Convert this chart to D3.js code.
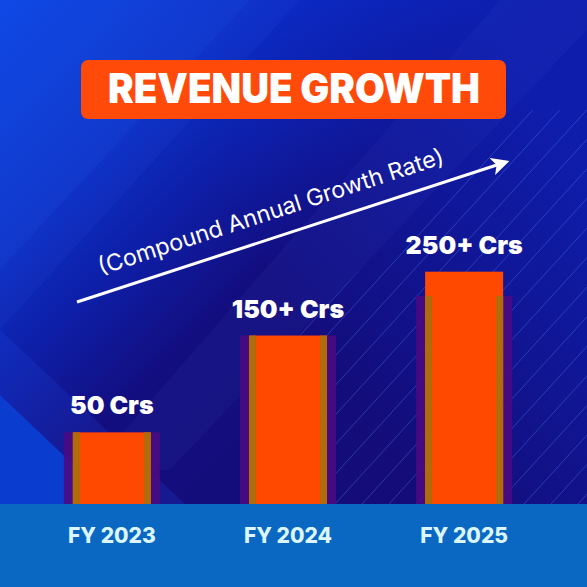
<!DOCTYPE html>
<html>
<head>
<meta charset="utf-8">
<script src="https://cdn.jsdelivr.net/npm/d3@7"></script>
<style>
  html, body { margin: 0; padding: 0; background: #120c74; }
  svg { display: block; }
</style>
</head>
<body>
<div id="chart"></div>
<script>
// chart data
var years = ["FY 2023", "FY 2024", "FY 2025"];
var valueLabels = ["50 Crs", "150+ Crs", "250+ Crs"];
// bar heights as drawn in the picture (not to scale with the labels)
var barLevels = [74, 174, 240];
var shadowLevels = [74, 174, 215];
var titleText = "REVENUE GROWTH";
var arrowText = "(Compound Annual Growth Rate)";

var svgWidth = 587;
var svgHeight = 587;
var baseY = 504;

var svg = d3.select("#chart")
  .append("svg")
  .attr("width", svgWidth)
  .attr("height", svgHeight);

var defs = svg.append("defs");

// background: navy base with a bright blue corner at the top left
var bg = defs.append("linearGradient")
  .attr("id", "bg")
  .attr("gradientUnits", "userSpaceOnUse")
  .attr("x1", 0).attr("y1", 0)
  .attr("x2", 587).attr("y2", 587);
bg.append("stop").attr("offset", "0").attr("stop-color", "#0742e2");
bg.append("stop").attr("offset", "0.2").attr("stop-color", "#0a32ca");
bg.append("stop").attr("offset", "0.33").attr("stop-color", "#0e1ea6");
bg.append("stop").attr("offset", "0.45").attr("stop-color", "#130e80");
bg.append("stop").attr("offset", "1").attr("stop-color", "#140b72");

svg.append("rect")
  .attr("width", svgWidth)
  .attr("height", svgHeight)
  .attr("fill", "url(#bg)");

// right side glow
var rg = defs.append("linearGradient")
  .attr("id", "rg")
  .attr("x1", "1").attr("y1", "0.3")
  .attr("x2", "0.55").attr("y2", "0.6");
rg.append("stop").attr("offset", "0").attr("stop-color", "#0a2ad0").attr("stop-opacity", 0.55);
rg.append("stop").attr("offset", "1").attr("stop-color", "#0a2ad0").attr("stop-opacity", 0);
svg.append("rect")
  .attr("width", svgWidth)
  .attr("height", svgHeight)
  .attr("fill", "url(#rg)");

// diagonal light bands
var bands = [
  { pts: [[0, 0], [250, 0], [0, 270]], o: 0.10, c: "#5a8cff" },
  { pts: [[250, 0], [300, 0], [0, 330], [0, 270]], o: 0.05, c: "#5a8cff" },
  { pts: [[500, 0], [587, 0], [587, 30], [170, 470], [90, 470]], o: 0.05, c: "#5a8cff" },
  { pts: [[0, 395], [115, 504], [0, 504]], o: 1, c: "#0a3cd0" },
  { pts: [[0, 330], [185, 504], [115, 504], [0, 395]], o: 0.15, c: "#2a5cff" }
];
svg.selectAll("polygon.band")
  .data(bands)
  .enter()
  .append("polygon")
  .attr("class", "band")
  .attr("points", d => d.pts.map(p => p.join(",")).join(" "))
  .attr("fill", d => d.c)
  .attr("opacity", d => d.o);

// thin diagonal lines on the right
defs.append("clipPath")
  .attr("id", "linesClip")
  .append("polygon")
  .attr("points", "300,504 587,504 587,110 520,110 300,330");

var lineG = svg.append("g").attr("clip-path", "url(#linesClip)");
d3.range(-10, 30).forEach(function(i) {
  var x0 = 200 + i * 27;
  lineG.append("line")
    .attr("x1", x0).attr("y1", baseY)
    .attr("x2", x0 + 420).attr("y2", baseY - 460)
    .attr("stroke", "#5a86ff")
    .attr("stroke-opacity", 0.35)
    .attr("stroke-width", 1);
});

// title box
svg.append("rect")
  .attr("x", 81).attr("y", 60)
  .attr("width", 425).attr("height", 59)
  .attr("rx", 7)
  .attr("fill", "#ff4a0a");

svg.append("text")
  .attr("x", 294).attr("y", 103)
  .attr("text-anchor", "middle")
  .attr("font-family", "Inter, 'Open Sans', sans-serif")
  .attr("font-weight", 900)
  .attr("font-size", 41)
  .attr("textLength", 372)
  .attr("lengthAdjust", "spacingAndGlyphs")
  .attr("fill", "#ffffff")
  .text(titleText);

// growth arrow
defs.append("marker")
  .attr("id", "head")
  .attr("viewBox", "0 0 10 10")
  .attr("refX", 8).attr("refY", 5)
  .attr("markerWidth", 6).attr("markerHeight", 6)
  .attr("markerUnits", "strokeWidth")
  .attr("orient", "auto")
  .append("path")
  .attr("d", "M0,0 L10,5 L0,10 L2.5,5 Z")
  .attr("fill", "#ffffff");

svg.append("line")
  .attr("x1", 77).attr("y1", 302)
  .attr("x2", 506).attr("y2", 162)
  .attr("stroke", "#ffffff")
  .attr("stroke-width", 3)
  .attr("marker-end", "url(#head)");

svg.append("text")
  .attr("transform", "translate(101,275) rotate(-18)")
  .attr("font-family", "Inter, 'Open Sans', sans-serif")
  .attr("font-size", 23)
  .attr("textLength", 362)
  .attr("lengthAdjust", "spacingAndGlyphs")
  .attr("fill", "#ffffff")
  .text(arrowText);

// scales
var xScale = d3.scaleBand()
  .domain(years)
  .range([20, 556])
  .paddingInner(0.557)
  .paddingOuter(0.3);

var yScale = d3.scaleLinear()
  .domain([0, 250])
  .range([baseY, baseY - 242]);

var data = years.map((y, i) => ({
  year: y, label: valueLabels[i], level: barLevels[i], shadow: shadowLevels[i]
}));

var bw = xScale.bandwidth();
var stripe = 7;

var barG = svg.append("g");

// purple shadow behind each bar
barG.selectAll("rect.shadow")
  .data(data)
  .enter()
  .append("rect")
  .attr("class", "shadow")
  .attr("x", d => xScale(d.year) - 9)
  .attr("y", d => yScale(d.shadow))
  .attr("width", bw + 18)
  .attr("height", d => baseY - yScale(d.shadow))
  .attr("fill", "#4a0a82")
  .attr("opacity", 0.9);

// main bars
barG.selectAll("rect.bar")
  .data(data)
  .enter()
  .append("rect")
  .attr("class", "bar")
  .attr("x", d => xScale(d.year))
  .attr("y", d => yScale(d.level))
  .attr("width", bw)
  .attr("height", d => baseY - yScale(d.level))
  .attr("fill", "#ff4800");

// darker edge stripes where the shadow overlaps
["left", "right"].forEach(function(side) {
  barG.selectAll("rect.stripe-" + side)
    .data(data)
    .enter()
    .append("rect")
    .attr("x", d => side === "left" ? xScale(d.year) : xScale(d.year) + bw - stripe)
    .attr("y", d => yScale(d.shadow))
    .attr("width", stripe)
    .attr("height", d => baseY - yScale(d.shadow))
    .attr("fill", "#b06c0a");
});

// value labels
barG.selectAll("text.value")
  .data(data)
  .enter()
  .append("text")
  .attr("x", d => xScale(d.year) + bw / 2)
  .attr("y", d => yScale(d.level) - 18)
  .attr("text-anchor", "middle")
  .attr("font-family", "Inter, 'Open Sans', sans-serif")
  .attr("font-weight", 900)
  .attr("font-size", 25)
  .attr("fill", "#ffffff")
  .text(d => d.label);

// bottom strip
svg.append("rect")
  .attr("x", 0).attr("y", baseY)
  .attr("width", svgWidth)
  .attr("height", svgHeight - baseY)
  .attr("fill", "#0a68c3");

// year axis labels
var xAxis = d3.axisBottom(xScale).tickSize(0).tickPadding(0);
var axisG = svg.append("g")
  .attr("transform", `translate(0, ${baseY})`)
  .call(xAxis);
axisG.select(".domain").remove();
axisG.selectAll(".tick text")
  .attr("dy", null)
  .attr("y", 39)
  .attr("font-family", "Inter, 'Open Sans', sans-serif")
  .attr("font-weight", 800)
  .attr("font-size", 21)
  .attr("fill", "#dcf6ff");
</script>
</body>
</html>
